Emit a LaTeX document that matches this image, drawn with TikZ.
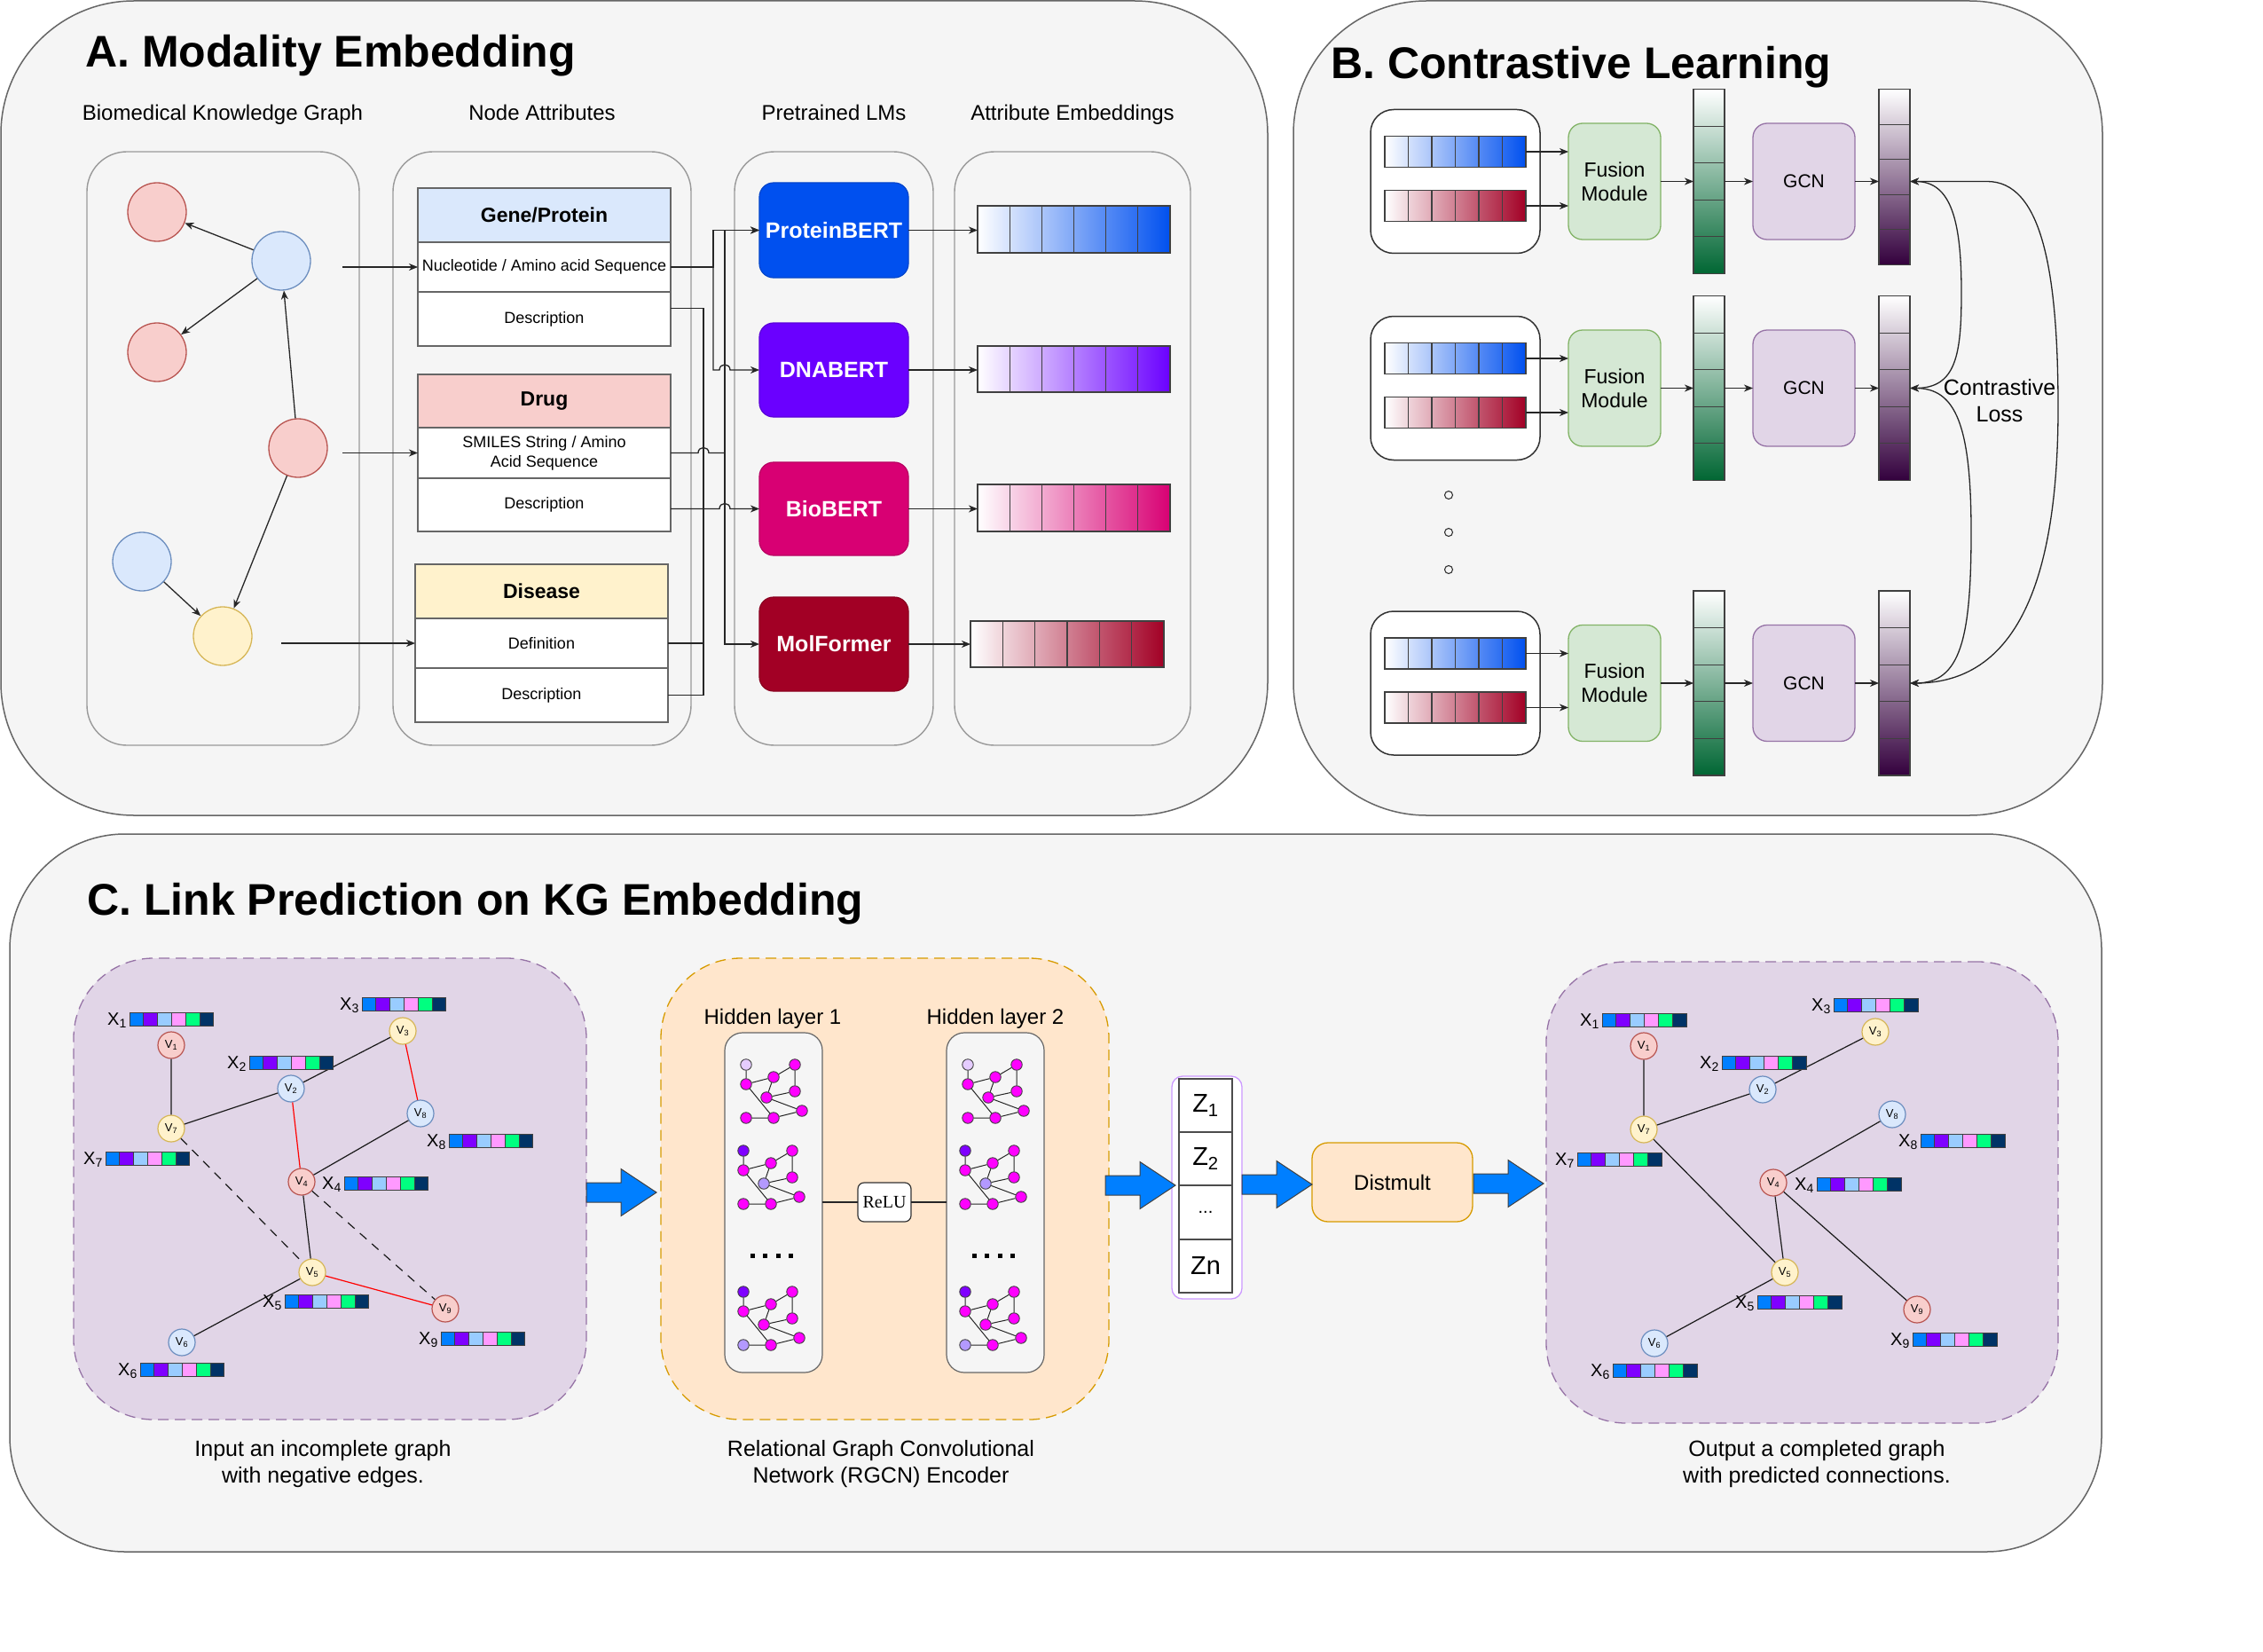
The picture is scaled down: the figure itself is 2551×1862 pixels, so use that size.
\documentclass[tikz,border=0pt]{standalone}
\usepackage{fontspec}
\setmainfont{Liberation Sans}
\newfontfamily\serifrelu{Liberation Serif}
\usetikzlibrary{arrows.meta,calc}

\newcommand{\fsz}[2]{\fontsize{#1}{#2}\selectfont}

\definecolor{panelfill}{HTML}{F5F5F5}
\definecolor{panelline}{HTML}{666666}
\definecolor{redfill}{HTML}{F8CECC}\definecolor{redline}{HTML}{B85450}
\definecolor{bluefill}{HTML}{DAE8FC}\definecolor{blueline}{HTML}{6C8EBF}
\definecolor{yelfill}{HTML}{FFF2CC}\definecolor{yelline}{HTML}{D6B656}
\definecolor{protc}{HTML}{0050EF}
\definecolor{dnac}{HTML}{6A00FF}
\definecolor{bioc}{HTML}{D80073}
\definecolor{molc}{HTML}{A20025}
\definecolor{fusfill}{HTML}{D5E8D4}\definecolor{fusline}{HTML}{82B366}
\definecolor{gcnfill}{HTML}{E1D5E7}\definecolor{gcnline}{HTML}{9673A6}
\definecolor{colgreen}{HTML}{006633}
\definecolor{colpurple}{HTML}{33003D}
\definecolor{orfill}{HTML}{FFE6CC}\definecolor{orline}{HTML}{D79B00}
\definecolor{arrblue}{HTML}{007FFF}
\definecolor{zline}{HTML}{CC99FF}
\definecolor{fa}{HTML}{007FFF}
\definecolor{fb}{HTML}{7F00FF}
\definecolor{fc}{HTML}{99CCFF}
\definecolor{fd}{HTML}{FF99FF}
\definecolor{fe}{HTML}{00FF80}
\definecolor{ff}{HTML}{003366}
\definecolor{magn}{HTML}{FF00FF}
\definecolor{lavl}{HTML}{E5CCFF}
\definecolor{lavm}{HTML}{B399FF}
\definecolor{purp}{HTML}{7F00FF}

\tikzset{
 panel/.style={draw=panelline, fill=panelfill, line width=1.5pt},
 inbox/.style={draw=black!40, fill=panelfill, line width=1.4pt, rounded corners=45pt},
 kgn/.style={circle, minimum size=66pt, inner sep=0pt, line width=1.3pt},
 kgr/.style={kgn, draw=redline, fill=redfill},
 kgb/.style={kgn, draw=blueline, fill=bluefill},
 kgy/.style={kgn, draw=yelline, fill=yelfill},
 thdr/.style={draw=black!60, line width=1.5pt, font=\fsz{23}{28}\bfseries},
 trow/.style={draw=black!60, fill=white, line width=1.5pt, font=\fsz{18}{22}},
 lmbox/.style={rounded corners=16pt, text=white, font=\fsz{25}{30}\bfseries, line width=1.2pt},
 conn/.style={draw=black!85, line width=1.3pt},
 arr/.style={conn, -{Stealth[length=10pt,width=8pt,inset=3pt]}},
 darr/.style={conn, {Stealth[length=10pt,width=8pt,inset=3pt]}-{Stealth[length=10pt,width=8pt,inset=3pt]}},
 cellline/.style={draw=black!75, line width=1.1pt},
 subt/.style={anchor=base, inner sep=0pt, font=\fsz{24}{29}},
 ttl/.style={anchor=base west, inner sep=0pt, font=\fsz{50}{60}\bfseries},
 wbox/.style={draw=black!80, fill=white, line width=1.5pt, rounded corners=26pt},
 fus/.style={draw=fusline, fill=fusfill, line width=1.3pt, rounded corners=16pt, font=\fsz{23}{27}},
 gcnb/.style={draw=gcnline, fill=gcnfill, line width=1.3pt, rounded corners=16pt, font=\fsz{21}{25}},
 dotc/.style={circle, draw=black!80, line width=1.1pt, minimum size=9pt, inner sep=0pt},
 gbox/.style={draw=gcnline, fill=gcnfill, line width=1.3pt, dash pattern=on 12pt off 7pt, rounded corners=90pt},
 obox/.style={draw=orline, fill=orfill, line width=1.3pt, dash pattern=on 12pt off 7pt, rounded corners=90pt},
 hpanel/.style={draw=black!60, fill=panelfill, line width=1.2pt, rounded corners=20pt},
 relub/.style={draw=black!80, fill=white, line width=1.2pt, rounded corners=7pt, font=\serifrelu\fsz{20}{24}},
 thinline/.style={draw=black!85, line width=1.2pt},
 mnode/.style={circle, minimum size=12.5pt, inner sep=0pt, draw=black!75, line width=0.9pt},
 medge/.style={draw=black!85, line width=1pt},
 zbox/.style={draw=zline, fill=white, line width=1.3pt, rounded corners=12pt},
 zcell/.style={draw=black!70, fill=white, line width=1.4pt, font=\fsz{29}{33}},
 dmb/.style={draw=orline, fill=orfill, line width=1.3pt, rounded corners=18pt, font=\fsz{24}{29}},
 vn/.style={circle, minimum size=30pt, inner sep=0pt, line width=1.2pt, font=\fsz{13}{15}},
 vr/.style={vn, draw=redline, fill=redfill},
 vb/.style={vn, draw=blueline, fill=bluefill},
 vy/.style={vn, draw=yelline, fill=yelfill},
 gedge/.style={draw=black!90, line width=1.2pt},
 redge/.style={draw=red, line width=1.2pt},
 dedge/.style={draw=black!90, line width=1.2pt, dash pattern=on 10pt off 8pt},
 capt/.style={align=center, font=\fsz{25}{30}, inner sep=0pt},
 xlab/.style={anchor=base east, inner sep=0pt, font=\fsz{20}{23}},
}

% box by corners: style, name, x0, y0, x1, y1, text
\newcommand{\bx}[7]{\node[inner sep=0pt, outer sep=0pt, align=center,
  minimum width={(#5)-(#3)}, minimum height={(#6)-(#4)}, #1] (#2)
  at ({((#3)+(#5))/2},{((#4)+(#6))/2}) {#7};}

% horizontal gradient bar: name, x0, y0, cellw, h, color
\newcommand{\hgrad}[6]{%
 \node[inner sep=0pt, outer sep=0pt, minimum width={6*(#4)}, minimum height={#5}, anchor=north west] (#1) at (#2,#3) {};
 \foreach \i in {0,...,5}{%
  \pgfmathtruncatemacro\gpa{round(\i*100/6)}%
  \pgfmathtruncatemacro\gpb{round((\i+1)*100/6)}%
  \pgfmathsetmacro\gxa{#2+\i*(#4)}%
  \pgfmathsetmacro\gxb{#2+(\i+1)*(#4)}%
  \shade[left color=#6!\gpa!white, right color=#6!\gpb!white] (\gxa,#3) rectangle (\gxb,{(#3)+(#5)});
  \draw[cellline] (\gxa,#3) rectangle (\gxb,{(#3)+(#5)});
 }}

% vertical gradient column: name, x0, y0, w, h, color
\newcommand{\vgrad}[6]{%
 \node[inner sep=0pt, outer sep=0pt, minimum width={#4}, minimum height={#5}, anchor=north west] (#1) at (#2,#3) {};
 \foreach \i in {0,...,4}{%
  \pgfmathtruncatemacro\gpa{\i*20}%
  \pgfmathtruncatemacro\gpb{(\i+1)*20}%
  \pgfmathsetmacro\gya{#3+\i*(#5)/5}%
  \pgfmathsetmacro\gyb{#3+(\i+1)*(#5)/5}%
  \shade[top color=#6!\gpa!white, bottom color=#6!\gpb!white] (#2,\gya) rectangle ({(#2)+(#4)},\gyb);
  \draw[cellline] (#2,\gya) rectangle ({(#2)+(#4)},\gyb);
 }}

% feature vector: name, x0, y0, index
\newcommand{\featbar}[4]{%
 \node[inner sep=0pt, outer sep=0pt, minimum width=95pt, minimum height=15.5pt, anchor=north west] (#1) at (#2,#3) {};
 \foreach \fcol [count=\k from 0] in {fa,fb,fc,fd,fe,ff}{%
  \pgfmathsetmacro\gxa{#2+\k*15.83}%
  \filldraw[fill=\fcol, draw=black!75, line width=1pt] (\gxa,#3) rectangle ++(15.83,15.5);
 }
 \node[xlab] (#1l) at ([xshift=-3pt,yshift=1pt]#1.south west) {X\textsubscript{#4}};
}

% mini graph: prefix, ax, ay, colour a, colour f, colour h
\newcommand{\minig}[6]{%
 \foreach \nm/\dx/\dy/\cl in {a/0/0/#4, b/0/22/magn, c/31/14/magn, d/55/0/magn, e/55/30/magn, f/23/37/#5, g/63/52/magn, h/0/60/#6, i/31/60/magn}{%
  \node[mnode, fill=\cl] (#1\nm) at ({#2+\dx},{#3+\dy}) {};
 }
 \draw[medge] (#1a)--(#1b) (#1b)--(#1c) (#1c)--(#1d) (#1d)--(#1e) (#1c)--(#1f)
   (#1f)--(#1e) (#1f)--(#1g) (#1b)--(#1i) (#1h)--(#1i) (#1i)--(#1g);
}

% block arrow: x0, x1, y
\newcommand{\blockarr}[3]{%
 \filldraw[fill=arrblue, draw=black!75, line width=1pt]
  (#1,{#3-11}) -- ({#2-40},{#3-11}) -- ({#2-40},{#3-26.5}) -- (#2,#3) --
  ({#2-40},{#3+26.5}) -- ({#2-40},{#3+11}) -- (#1,{#3+11}) -- cycle;}

\begin{document}
\begin{tikzpicture}[x=1pt,y=-1pt]
\useasboundingbox (0,0) rectangle (2551,1862);
\fill[white] (0,0) rectangle (2551,1862);

%================ PANEL A ================
\bx{panel, rounded corners=150pt}{pA}{1}{1}{1429}{919}{}
\node[ttl] (tA) at (96,76) {A. Modality Embedding};
\node[subt] (sA1) at (251,136) {Biomedical Knowledge Graph};
\node[subt] (sA2) at (611,136) {Node Attributes};
\node[subt] (sA3) at (940,136) {Pretrained LMs};
\node[subt] (sA4) at (1209,136) {Attribute Embeddings};

\bx{inbox}{bKG}{98}{171}{405}{840}{}
\bx{inbox}{bNA}{443}{171}{779}{840}{}
\bx{inbox}{bLM}{828}{171}{1052}{840}{}
\bx{inbox}{bAE}{1076}{171}{1342}{840}{}

% knowledge graph
\node[kgr] (k1) at (177,239) {};
\node[kgr] (k2) at (177,397) {};
\node[kgb] (k3) at (317,294) {};
\node[kgr] (k4) at (336,505) {};
\node[kgb] (k5) at (160,633) {};
\node[kgy] (k6) at (251,717) {};
\draw[arr] (k3) -- (k1);
\draw[arr] (k3) -- (k2);
\draw[arr] (k4) -- (k3);
\draw[arr] (k4) -- (k6);
\draw[arr] (k5) -- (k6);

% attribute tables
\bx{thdr, fill=bluefill}{gh}{471}{212}{756}{273}{Gene/Protein}
\bx{trow}{gnuc}{471}{273}{756}{329}{Nucleotide / Amino acid Sequence}
\bx{trow}{gdesc}{471}{329}{756}{390}{Description}
\bx{thdr, fill=redfill}{dh}{471}{422}{756}{482}{Drug}
\bx{trow}{dsm}{471}{482}{756}{539}{SMILES String / Amino\\Acid Sequence}
\bx{trow}{ddesc}{471}{539}{756}{599}{Description}
\bx{thdr, fill=yelfill}{sh}{468}{636}{753}{697}{Disease}
\bx{trow}{sdef}{468}{697}{753}{753}{Definition}
\bx{trow}{sdesc}{468}{753}{753}{814}{Description}

\coordinate (g1) at (386,301);
\coordinate (g2) at (386,510.5);
\coordinate (g3) at (317,725);
\draw[arr] (g1) -- (gnuc.west);
\draw[arr] (g2) -- (dsm.west);
\draw[arr] (g3) -- (sdef.west);

% language models
\bx{lmbox, fill=protc, draw=protc!85!black}{lmP}{856}{206}{1024}{313}{ProteinBERT}
\bx{lmbox, fill=dnac, draw=dnac!85!black}{lmD}{856}{364}{1024}{470}{DNABERT}
\bx{lmbox, fill=bioc, draw=bioc!85!black}{lmB}{856}{521}{1024}{626}{BioBERT}
\bx{lmbox, fill=molc, draw=molc!85!black}{lmM}{856}{673}{1024}{779}{MolFormer}

% embeddings
\hgrad{eP}{1102}{232}{36.17}{53}{protc}
\hgrad{eD}{1102}{390}{36.17}{52}{dnac}
\hgrad{eB}{1102}{546}{36.17}{53}{bioc}
\hgrad{eM}{1094}{700}{36.33}{52}{molc}
\draw[arr] (lmP.east) -- (lmP.east -| eP.west);
\draw[arr] (lmD.east) -- (lmD.east -| eD.west);
\draw[arr] (lmB.east) -- (lmB.east -| eB.west);
\draw[arr] (lmM.east) -- (lmM.east -| eM.west);

% table -> LM connectors
\coordinate (jx1) at (804,0);
\coordinate (jx2) at (817,0);
\coordinate (jx3) at (793,0);
\draw[arr] (gnuc.east) -- (gnuc.east -| jx1) |- (lmP.west);
\draw[arr] (gnuc.east -| jx1) -- (jx1 |- lmD.west) -- ([xshift=-6pt]jx2 |- lmD.west)
   .. controls +(0,-8) and +(0,-8) .. ([xshift=6pt]jx2 |- lmD.west) -- (lmD.west);
\draw[conn] (dsm.east) -- ([xshift=-6pt]jx3 |- dsm.east)
   .. controls +(0,-8) and +(0,-8) .. ([xshift=6pt]jx3 |- dsm.east) -- (jx2 |- dsm.east);
\draw[arr] (jx2 |- dsm.east) -- (jx2 |- lmP.west) -- (lmP.west);
\draw[arr] (jx2 |- dsm.east) |- (lmM.west);
\draw[arr] (ddesc.east |- lmB.west) -- ([xshift=-6pt]jx2 |- lmB.west)
   .. controls +(0,-8) and +(0,-8) .. ([xshift=6pt]jx2 |- lmB.west) -- (lmB.west);
\draw[conn] ([yshift=12pt]gdesc.east) -| (jx3 |- lmB.west);
\draw[conn] (sdef.east) -- (jx3 |- sdef.east);
\draw[conn] (sdesc.east) -| (jx3 |- lmB.west);

%================ PANEL B ================
\bx{panel, rounded corners=150pt}{pB}{1458}{1}{2370}{919}{}
\node[ttl] (tB) at (1500,89) {B. Contrastive Learning};

\foreach \r/\c/\ph in {1/204.5/198, 2/437.5/208, 3/770/208}{
 \bx{wbox}{ob\r}{1545}{\c-81}{1736}{\c+81}{}
 \hgrad{bb\r}{1561}{\c-51}{26.5}{35}{protc}
 \hgrad{rb\r}{1561}{\c+10}{26.5}{35}{molc}
 \bx{fus}{fu\r}{1768}{\c-65.5}{1872}{\c+65.5}{Fusion\\Module}
 \vgrad{gc\r}{1909}{\c-104}{35}{208}{colgreen}
 \bx{gcnb}{gn\r}{1976}{\c-65.5}{2091}{\c+65.5}{GCN}
 \vgrad{pc\r}{2118}{\c-104}{35}{\ph}{colpurple}
 \draw[arr] (bb\r.east) -- (bb\r.east -| fu\r.west);
 \draw[arr] (rb\r.east) -- (rb\r.east -| fu\r.west);
 \draw[arr] (fu\r.east) -- (fu\r.east -| gc\r.west);
 \draw[arr] (gc\r.east |- gn\r.west) -- (gn\r.west);
 \draw[arr] (gn\r.east) -- (gn\r.east -| pc\r.west);
 \coordinate (q\r) at (pc\r.east |- gn\r.east);
}
\node[dotc] (dt1) at (1633,558) {};
\node[dotc] (dt2) at (1633,600) {};
\node[dotc] (dt3) at (1633,642) {};

\draw[darr] (q2) .. controls (2205,437.5) and (2211,400) .. (2211,330)
   .. controls (2211,250) and (2200,204.5) .. (q1);
\draw[darr] (q3) .. controls (2210,770) and (2222,720) .. (2222,600)
   .. controls (2222,480) and (2205,437.5) .. (q2);
\draw[darr] (q1) -- (2240,204.5) .. controls (2300,204.5) and (2320,300) .. (2320,460)
   .. controls (2320,680) and (2260,770) .. (q3);
\node[align=center, font=\fsz{25}{30}, inner sep=0pt] (cl) at (2254,452) {Contrastive\\Loss};

%================ PANEL C ================
\bx{panel, rounded corners=130pt}{pC}{11}{940}{2369}{1749}{}
\node[ttl] (tC) at (98,1031) {C. Link Prediction on KG Embedding};

% left graph
\bx{gbox}{lgb}{83}{1080}{661}{1600}{}
\node[vr] (lv1) at (193,1178) {V\textsubscript{1}};
\node[vb] (lv2) at (328,1227) {V\textsubscript{2}};
\node[vy] (lv3) at (454,1162) {V\textsubscript{3}};
\node[vr] (lv4) at (340,1332) {V\textsubscript{4}};
\node[vy] (lv5) at (352,1434) {V\textsubscript{5}};
\node[vb] (lv6) at (205,1513) {V\textsubscript{6}};
\node[vy] (lv7) at (193,1272) {V\textsubscript{7}};
\node[vb] (lv8) at (474,1255) {V\textsubscript{8}};
\node[vr] (lv9) at (502,1475) {V\textsubscript{9}};
\draw[gedge] (lv1)--(lv7) (lv7)--(lv2) (lv2)--(lv3) (lv8)--(lv4) (lv4)--(lv5) (lv5)--(lv6);
\draw[redge] (lv3)--(lv8) (lv2)--(lv4) (lv5)--(lv9);
\draw[dedge] (lv7)--(lv5) (lv4)--(lv9);
\featbar{lx1}{146}{1141}{1}
\featbar{lx2}{281}{1190}{2}
\featbar{lx3}{408}{1124}{3}
\featbar{lx4}{388}{1326}{4}
\featbar{lx5}{321}{1459}{5}
\featbar{lx6}{158}{1536}{6}
\featbar{lx7}{119}{1298}{7}
\featbar{lx8}{506}{1278}{8}
\featbar{lx9}{497}{1501}{9}
\node[capt] (cap1) at (364,1650) {Input an incomplete graph\\with negative edges.};

% RGCN encoder
\bx{obox}{rg}{745}{1080}{1250}{1600}{}
\node[subt] (hl1) at (871,1154) {Hidden layer 1};
\node[subt] (hl2) at (1122,1154) {Hidden layer 2};
\bx{hpanel}{hp1}{817}{1164}{927}{1547}{}
\bx{hpanel}{hp2}{1067}{1164}{1177}{1547}{}
\bx{relub}{relu}{967}{1333}{1027}{1377}{ReLU}
\draw[thinline] (hp1.east |- relu.west) -- (relu.west);
\draw[thinline] (relu.east) -- (relu.east -| hp2.west);
\minig{m1}{841}{1200}{lavl}{magn}{magn}
\minig{m2}{838}{1297}{purp}{lavm}{magn}
\minig{m3}{838}{1456}{purp}{magn}{lavm}
\minig{m4}{1091}{1200}{lavl}{magn}{magn}
\minig{m5}{1088}{1297}{purp}{lavm}{magn}
\minig{m6}{1088}{1456}{purp}{magn}{lavm}
\foreach \k in {0,...,3}{
 \fill ({846+\k*14.3},1412.5) rectangle ++(5,5);
 \fill ({1096+\k*14.3},1412.5) rectangle ++(5,5);
}
\node[capt] (cap2) at (993,1650) {Relational Graph Convolutional\\Network (RGCN) Encoder};

% Z column and Distmult
\bx{zbox}{zb}{1321}{1213}{1400}{1464}{}
\bx{zcell}{z1}{1329}{1216}{1389}{1276}{Z\textsubscript{1}}
\bx{zcell}{z2}{1329}{1276}{1389}{1336}{Z\textsubscript{2}}
\bx{zcell, font=\fsz{20}{24}}{z3}{1329}{1336}{1389}{1397}{...}
\bx{zcell}{z4}{1329}{1397}{1389}{1457}{Zn}
\bx{dmb}{dm}{1479}{1288}{1660}{1377}{Distmult}

\blockarr{661}{740}{1344}
\blockarr{1246}{1325}{1336}
\blockarr{1400}{1479}{1335}
\blockarr{1661}{1740}{1334}

% right graph
\bx{gbox}{rgb}{1743}{1084}{2320}{1604}{}
\node[vr] (rv1) at (1853,1179) {V\textsubscript{1}};
\node[vb] (rv2) at (1987,1228) {V\textsubscript{2}};
\node[vy] (rv3) at (2114,1163) {V\textsubscript{3}};
\node[vr] (rv4) at (1999,1333) {V\textsubscript{4}};
\node[vy] (rv5) at (2012,1434) {V\textsubscript{5}};
\node[vb] (rv6) at (1865,1514) {V\textsubscript{6}};
\node[vy] (rv7) at (1853,1273) {V\textsubscript{7}};
\node[vb] (rv8) at (2133,1256) {V\textsubscript{8}};
\node[vr] (rv9) at (2161,1476) {V\textsubscript{9}};
\draw[gedge] (rv1)--(rv7) (rv7)--(rv2) (rv2)--(rv3) (rv8)--(rv4) (rv7)--(rv5)
   (rv4)--(rv5) (rv4)--(rv9) (rv5)--(rv6);
\featbar{rx1}{1806}{1142}{1}
\featbar{rx2}{1941}{1190}{2}
\featbar{rx3}{2067}{1125}{3}
\featbar{rx4}{2048}{1327}{4}
\featbar{rx5}{1981}{1460}{5}
\featbar{rx6}{1818}{1537}{6}
\featbar{rx7}{1778}{1299}{7}
\featbar{rx8}{2165}{1278}{8}
\featbar{rx9}{2156}{1502}{9}
\node[capt] (cap3) at (2048,1650) {Output a completed graph\\with predicted connections.};

\end{tikzpicture}
\end{document}
